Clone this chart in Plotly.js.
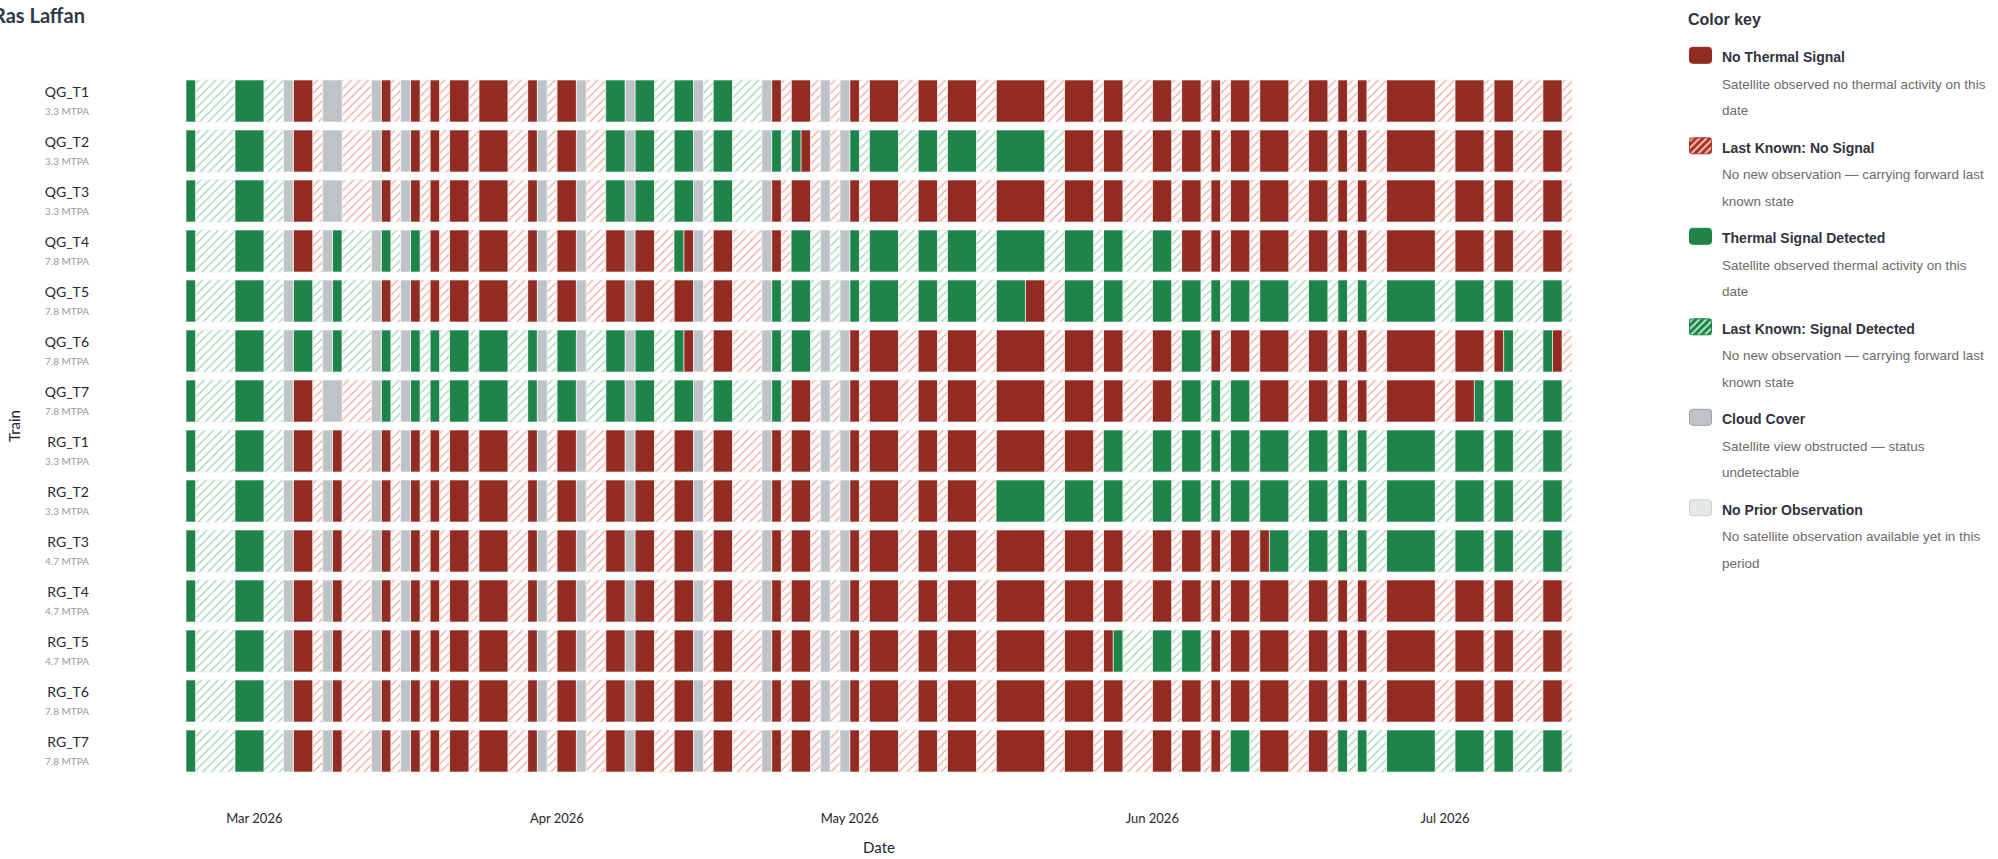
<!DOCTYPE html>
<html>
<head>
<meta charset="utf-8">
<script src="https://cdn.plot.ly/plotly-3.0.1.min.js"></script>
<style>html,body{margin:0;padding:0;background:#fff;overflow:hidden}</style>
</head>
<body>
<div id="chart" style="width:1998px;height:859px"></div>
<script>
// ---------------- DATA ----------------
const chartTitle = "Ras Laffan";
const trains = ["QG_T1","QG_T2","QG_T3","QG_T4","QG_T5","QG_T6","QG_T7",
                "RG_T1","RG_T2","RG_T3","RG_T4","RG_T5","RG_T6","RG_T7"];
const capacities = ["3.3","3.3","3.3","7.8","7.8","7.8","7.8",
                    "3.3","3.3","4.7","4.7","4.7","7.8","7.8"];
const startDate = "2026-02-22";
// one character per day (weeks separated by spaces):
// R no thermal signal, r last known no signal, G thermal signal, g last known signal, C cloud, N no prior obs
const statusRows = [
 "GggggGG GggCRRr CCrrrCR rCRrRrR RrRRRrr RCrRRCr rGGCGGg gGGCgGG gggCRrR RrCrCRr RRRrrRR rRRRrrR RRRRrrR RRrRRrr rRRrRRr RrRRrRR RrrRRrR rRrrRRR RRrrRRR rRRrrrR Rr",
 "GggggGG GggCRRr CCrrrCR rCRrRrR RrRRRrr RCrRRCr rGGCGGg gGGCgGG gggCGgG RrCrCGg GGGggGG gGGGggG GGGGggR RRrRRrr rRRrRRr RrRRrRR RrrRRrR rRrrRRR RRrrRRR rRRrrrR Rr",
 "GggggGG GggCRRr CCrrrCR rCRrRrR RrRRRrr RCrRRCr rGGCGGg gGGCgGG gggCRrR RrCrCRr RRRrrRR rRRRrrR RRRRrrR RRrRRrr rRRrRRr RrRRrRR RrrRRrR rRrrRRR RRrrRRR rRRrrrR Rr",
 "GggggGG GggCRRr CGgggCG gCGgRrR RrRRRrr RCrRRCr rRRCRRr rGRCrRR rrrCRrG GgCgCGg GGGggGG gGGGggG GGGGggG GGgGGgg gGGgRRr RrRRrRR RrrRRrR rRrrRRR RRrrRRR rRRrrrR Rr",
 "GggggGG GggCGGg CGgggCR rCRrRrR RrRRRrr RCrRRCr rRRCRRr rRRCrRR rrrCGgG GgCgCGg GGGggGG gGGGggG GGRRrrG GGgGGgg gGGgGGg GgGGgGG GggGGgG gGggGGG GGggGGG gGGgggG Gg",
 "GggggGG GggCGGg CGgggCG gCGgGgG GgGGGgg GCgGGCg gGGCGGg gGRCrRR rrrCGgG GgCgCRr RRRrrRR rRRRrrR RRRRrrR RRrRRrr rRRrGGg RrRRrRR RrrRRrR rRrrRRR RRrrRRR rRGgggG Rr",
 "GggggGG GggCRRr CCrrrCG gCGgGgG GgGGGgg GCgGGCg gGGCGGg gGGCgGG gggCGgR RrCrCRr RRRrrRR rRRRrrR RRRRrrR RRrRRrr rRRrGGg GgGGgRR RrrRRrR rRrrRRR RRrrRRG gGGgggG Gg",
 "GggggGG GggCRRr CRrrrCR rCRrRrR RrRRRrr RCrRRCr rRRCRRr rRRCrRR rrrCRrR RrCrCRr RRRrrRR rRRRrrR RRRRrrR RRrGGgg gGGgGGg GgGGgGG GggGGgG gGggGGG GGggGGG gGGgggG Gg",
 "GggggGG GggCRRr CRrrrCR rCRrRrR RrRRRrr RCrRRCr rRRCRRr rRRCrRR rrrCRrR RrCrCRr RRRrrRR rRRRrrG GGGGggG GGgGGgg gGGgGGg GgGGgGG GggGGgG gGggGGG GGggGGG gGGgggG Gg",
 "GggggGG GggCRRr CRrrrCR rCRrRrR RrRRRrr RCrRRCr rRRCRRr rRRCrRR rrrCRrR RrCrCRr RRRrrRR rRRRrrR RRRRrrR RRrRRrr rRRrRRr RrRRrRG GggGGgG gGggGGG GGggGGG gGGgggG Gg",
 "GggggGG GggCRRr CRrrrCR rCRrRrR RrRRRrr RCrRRCr rRRCRRr rRRCrRR rrrCRrR RrCrCRr RRRrrRR rRRRrrR RRRRrrR RRrRRrr rRRrRRr RrRRrRR RrrRRrR rRrrRRR RRrrRRR rRRrrrR Rr",
 "GggggGG GggCRRr CRrrrCR rCRrRrR RrRRRrr RCrRRCr rRRCRRr rRRCrRR rrrCRrR RrCrCRr RRRrrRR rRRRrrR RRRRrrR RRrRGgg gGGgGGg RrRRrRR RrrRRrR rRrrRRR RRrrRRR rRRrrrR Rr",
 "GggggGG GggCRRr CRrrrCR rCRrRrR RrRRRrr RCrRRCr rRRCRRr rRRCrRR rrrCRrR RrCrCRr RRRrrRR rRRRrrR RRRRrrR RRrRRrr rRRrRRr RrRRrRR RrrRRrR rRrrRRR RRrrRRR rRRrrrR Rr",
 "GggggGG GggCRRr CRrrrCR rCRrRrR RrRRRrr RCrRRCr rRRCRRr rRRCrRR rrrCRrR RrCrCRr RRRrrRR rRRRrrR RRRRrrR RRrRRrr rRRrRRr RrGGgRR RrrRRrG gGggGGG GGggGGG gGGgggG Gg"
];
const legendKeys = ["R","r","G","g","C","N"];
const legendLabels = ["No Thermal Signal","Last Known: No Signal","Thermal Signal Detected",
                      "Last Known: Signal Detected","Cloud Cover","No Prior Observation"];
const legendDescriptions = [
 ["Satellite observed no thermal activity on this","date"],
 ["No new observation \u2014 carrying forward last","known state"],
 ["Satellite observed thermal activity on this","date"],
 ["No new observation \u2014 carrying forward last","known state"],
 ["Satellite view obstructed \u2014 status","undetectable"],
 ["No satellite observation available yet in this","period"]
];

// ---------------- STYLE / GEOMETRY ----------------
const W = 1998, H = 859;
const M = {l: 186, r: 426, t: 76, b: 83};
const plotW = W - M.l - M.r, plotH = H - M.t - M.b;
const pxX = v => (v - M.l) / plotW;
const pxY = v => (H - M.b - v) / plotH;
const FONT = "Source Sans Pro, Lato, sans-serif";
const LFONT = "Arial, Liberation Sans, sans-serif";

const styles = {
  R: {color: "#922B21"},
  r: {color: "#ffffff", pattern: {shape: "/", fgcolor: "#F2A49C", bgcolor: "#ffffff", size: 6, solidity: 0.2}},
  G: {color: "#1E8449"},
  g: {color: "#ffffff", pattern: {shape: "/", fgcolor: "#9BD3B2", bgcolor: "#ffffff", size: 6, solidity: 0.2}},
  C: {color: "#BDC3C7"},
  N: {color: "#E5E8E8"}
};
const swatch = {
  R: {fill: "#922B21", line: "#922B21"},
  r: {fill: "#F5B7B1", stripe: "#A93226", line: "#C0392B"},
  G: {fill: "#1E8449", line: "#1E8449"},
  g: {fill: "#A9DFBF", stripe: "#1E8449", line: "#1E8449"},
  C: {fill: "#BDC3C7", line: "#95A5A6"},
  N: {fill: "#E5E8E8", line: "#CCD1D1"}
};

// ---------------- BUILD BARS ----------------
const DAY = 86400000;
const t0 = new Date(startDate + "T00:00:00Z").getTime();
const isoDay = i => new Date(t0 + i * DAY).toISOString().slice(0, 10);
const runs = {R: [], r: [], G: [], g: [], C: [], N: []};
trains.forEach((t, ti) => {
  const s = statusRows[ti].replace(/\s+/g, "");
  let i = 0;
  while (i < s.length) {
    let j = i;
    while (j < s.length && s[j] === s[i]) j++;
    runs[s[i]].push({y: t, base: isoDay(i), len: (j - i) * DAY});
    i = j;
  }
});
const traces = Object.keys(runs).filter(k => runs[k].length).map(k => ({
  type: "bar", orientation: "h",
  y: runs[k].map(d => d.y), x: runs[k].map(d => d.len), base: runs[k].map(d => d.base),
  marker: Object.assign({}, styles[k], {line: {width: 0.7, color: (k === "r" || k === "g") ? "#ececec" : "rgba(255,255,255,0.85)"}}),
  hoverinfo: "skip", showlegend: false, name: k
}));
const lastDay = isoDay(statusRows[0].replace(/\s+/g, "").length);

// ---------------- LEGEND (shapes + annotations) ----------------
const shapes = [], annotations = [];
function rrPath(x0, y0, x1, y1, r) {
  const P = (x, y) => pxX(x) + "," + pxY(y);
  return "M" + P(x0 + r, y0) + " L" + P(x1 - r, y0) + " Q" + P(x1, y0) + " " + P(x1, y0 + r) +
    " L" + P(x1, y1 - r) + " Q" + P(x1, y1) + " " + P(x1 - r, y1) + " L" + P(x0 + r, y1) +
    " Q" + P(x0, y1) + " " + P(x0, y1 - r) + " L" + P(x0, y0 + r) + " Q" + P(x0, y0) + " " + P(x0 + r, y0) + " Z";
}
function clipHalf(poly, f) {
  const out = [];
  for (let i = 0; i < poly.length; i++) {
    const a = poly[i], b = poly[(i + 1) % poly.length];
    const fa = f(a), fb = f(b);
    if (fa >= 0) out.push(a);
    if ((fa >= 0) !== (fb >= 0)) {
      const t = fa / (fa - fb);
      out.push([a[0] + t * (b[0] - a[0]), a[1] + t * (b[1] - a[1])]);
    }
  }
  return out;
}
legendKeys.forEach((k, i) => {
  const ty = 57.3 + i * 90.5;
  const x0 = 1689.5, x1 = 1711.5, y0 = ty - 10, y1 = ty + 6;
  const sw = swatch[k];
  shapes.push({type: "path", xref: "paper", yref: "paper", path: rrPath(x0, y0, x1, y1, 3),
    fillcolor: sw.fill, line: {color: sw.line, width: 1}});
  if (sw.stripe) {
    const rect = [[x0, y0], [x1, y0], [x1, y1], [x0, y1]];
    for (let c = x0 + y0 - 2; c < x1 + y1; c += 7) {
      let poly = clipHalf(rect, p => p[0] + p[1] - c);
      poly = clipHalf(poly, p => c + 4 - (p[0] + p[1]));
      if (poly.length > 2) {
        shapes.push({type: "path", xref: "paper", yref: "paper",
          path: "M" + poly.map(p => pxX(p[0]) + "," + pxY(p[1])).join(" L") + " Z",
          fillcolor: sw.stripe, line: {width: 0}});
      }
    }
  }
  annotations.push({xref: "paper", yref: "paper", x: pxX(1720), y: pxY(ty), xanchor: "left", yanchor: "middle",
    text: legendLabels[i], showarrow: false, font: {family: LFONT, size: 14, color: "#31333F", weight: 700}});
  legendDescriptions[i].forEach((line, j) => {
    annotations.push({xref: "paper", yref: "paper", x: pxX(1720), y: pxY(ty + 27 + j * 26.5), xanchor: "left", yanchor: "middle",
      text: line, showarrow: false, font: {family: LFONT, size: 13.5, color: "#6b6b6b"}});
  });
});
annotations.push({xref: "paper", yref: "paper", x: pxX(1686), y: pxY(19), xanchor: "left", yanchor: "middle",
  text: "Color key", showarrow: false, font: {family: LFONT, size: 16, color: "#31333F", weight: 700}});
annotations.push({xref: "paper", yref: "paper", x: pxX(87), y: pxY(15), xanchor: "right", yanchor: "middle",
  text: chartTitle, showarrow: false, font: {family: FONT, size: 20, color: "#2C3A4B", weight: 700}});

// ---------------- LAYOUT ----------------
const ticktext = trains.map((t, i) =>
  '<span style="font-size:14px">' + t + '</span><br><span style="font-size:10px;color:#9a9a9a">' + capacities[i] + ' MTPA</span>');

const layout = {
  width: W, height: H, margin: M,
  paper_bgcolor: "#ffffff", plot_bgcolor: "#ffffff",
  barmode: "overlay", bargap: 0.16,
  xaxis: {type: "date", range: [startDate, lastDay], tick0: "2026-03-01", dtick: "M1", tickformat: "%b %Y",
    showgrid: false, zeroline: false, showline: false, ticks: "", ticklabelstandoff: 33,
    tickfont: {family: FONT, size: 13, color: "#262730"},
    title: {text: "Date", standoff: 17, font: {family: FONT, size: 15, color: "#262730"}}},
  yaxis: {type: "category", categoryorder: "array", categoryarray: trains, range: [trains.length - 0.5, -0.5],
    tickvals: trains, ticktext: ticktext, ticks: "", showgrid: false, zeroline: false, showline: false,
    ticklabelstandoff: 96, tickfont: {family: FONT, size: 14, color: "#262730"},
    title: {text: "Train", standoff: 20, font: {family: FONT, size: 15, color: "#262730"}}},
  shapes: shapes, annotations: annotations, showlegend: false
};
Plotly.newPlot("chart", traces, layout, {displayModeBar: false, staticPlot: true});
</script>
</body>
</html>
